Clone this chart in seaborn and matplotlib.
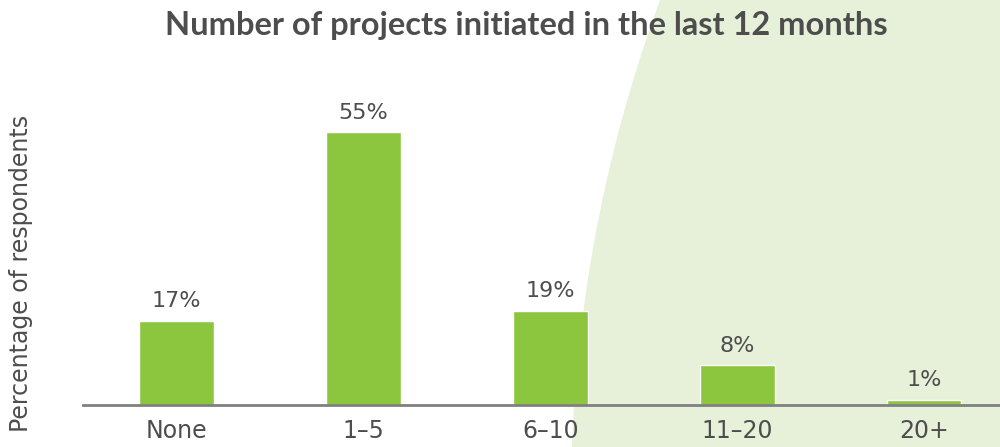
import matplotlib.pyplot as plt
import pandas as pd
import seaborn as sns
from matplotlib.patches import Circle

sns.set_style("white")
plt.rcParams['font.family'] = ['DejaVu Sans']

categories = ["None", "1–5", "6–10", "11–20", "20+"]
percentages = [17, 55, 19, 8, 1]

bar_color = "#8cc63f"
text_color = "#4d4d4d"

df = pd.DataFrame({"projects": categories, "pct": percentages})

fig = plt.figure(figsize=(10, 4.47), dpi=100)

# background decoration: big pale green circle on the right
bg = fig.add_axes([0, 0, 1, 1])
bg.set_xlim(0, 1000)
bg.set_ylim(447, 0)
bg.axis("off")
bg.add_patch(Circle((2020, 500), 1449, color="#e7f1d9", lw=0))

ax = fig.add_axes([0.083, 0.094, 0.917, 0.682])
ax.patch.set_alpha(0)
sns.barplot(data=df, x="projects", y="pct", color=bar_color, width=0.4,
            saturation=1, ax=ax)

ax.set_xlim(-0.5, 4.406)
ax.set_ylim(0, 61.5)
for c in ax.containers:
    ax.bar_label(c, labels=[f"{v}%" for v in percentages], padding=7,
                 fontsize=16, color=text_color)

sns.despine(ax=ax, left=True, right=True, top=True)
ax.spines["bottom"].set_color("#808080")
ax.spines["bottom"].set_linewidth(2)
ax.set_yticks([])
ax.tick_params(axis="x", length=0, pad=10, labelsize=17, labelcolor=text_color)
ax.set_xlabel("")
ax.set_ylabel("Percentage of respondents", fontsize=17, color=text_color)
ax.yaxis.set_label_coords(-0.054, 0.433)

fig.text(0.526, 0.975, "Number of projects initiated in the last 12 months",
         ha="center", va="top", fontsize=23.5, fontweight="bold",
         color=text_color, family="Lato")

fig.savefig("out.png")
